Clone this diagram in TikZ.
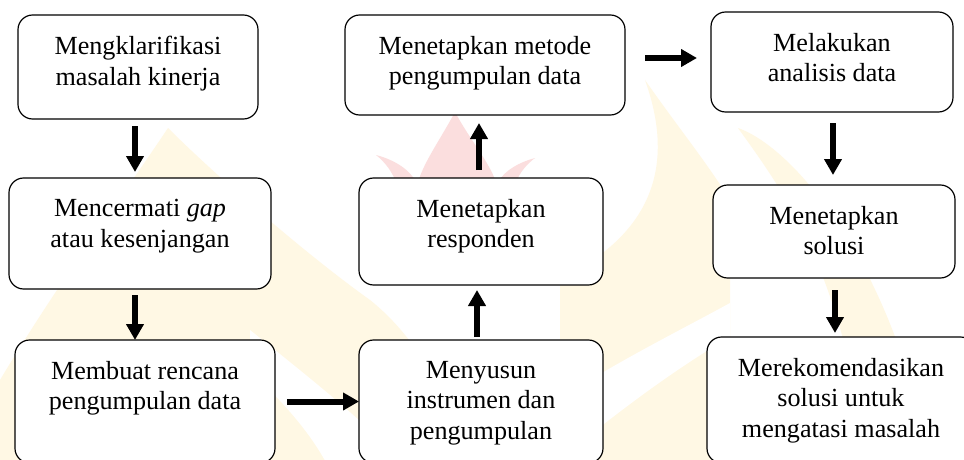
\documentclass[tikz,border=0pt]{standalone}
\usepackage{fontspec}
\setmainfont{Liberation Serif}
\usetikzlibrary{arrows.meta}
\definecolor{wmyellow}{RGB}{255,248,228}
\definecolor{wmpink}{RGB}{251,222,222}
\tikzset{
  box/.style 2 args={draw=black, line width=0.9pt, rounded corners=11pt, fill=white,
    minimum width=#1*0.75pt, minimum height=#2*0.75pt, inner sep=0pt, outer sep=0pt},
  txt/.style={align=center, inner sep=0pt, anchor=north, yshift=-15.75pt,
    font=\fontsize{19.6pt}{22.9pt}\selectfont},
  arr/.style={line width=4.5pt, -{Triangle[length=12pt,width=12.75pt]}},
}
\begin{document}
\begin{tikzpicture}[x=0.75pt,y=-0.75pt]
\useasboundingbox (0,0) rectangle (964,460);
\fill[white] (0,0) rectangle (964,460);
% watermark
\fill[wmyellow] (168,128) .. controls (120,200) and (60,280) .. (0,380) -- (-5,470) -- (470,470)
  .. controls (450,400) and (420,340) .. (370,300) .. controls (300,250) and (210,170) .. (168,128) -- cycle;
\fill[white] (250,330) .. controls (300,370) and (350,410) .. (380,440) -- (380,470) -- (330,470)
  .. controls (310,430) and (280,400) .. (250,370) -- cycle;
\fill[wmyellow] (645,80) .. controls (670,150) and (660,210) .. (600,255) -- (560,262) -- (560,470) -- (730,470)
  -- (730,200) .. controls (705,160) and (680,130) .. (645,80) -- cycle;
\fill[white] (590,380) .. controls (640,350) and (690,325) .. (730,303) -- (730,337)
  .. controls (690,360) and (640,395) .. (590,435) -- cycle;
\fill[wmyellow] (738,128) .. controls (790,200) and (840,270) .. (870,470) -- (930,470)
  .. controls (900,280) and (800,150) .. (738,128) -- cycle;
\fill[wmpink] (455,112) .. controls (440,140) and (425,160) .. (418,182) -- (496,182)
  .. controls (488,160) and (470,140) .. (455,112) -- cycle;
\fill[wmpink] (376,155) .. controls (395,160) and (410,170) .. (416,182) -- (396,182)
  .. controls (392,172) and (386,163) .. (376,155) -- cycle;
\fill[wmpink] (535,158) .. controls (520,162) and (505,170) .. (498,182) -- (516,182)
  .. controls (520,172) and (527,164) .. (535,158) -- cycle;
% boxes
\node[box={240}{104}] (b1) at (138,67) {};
\node[box={262}{111}] (b2) at (140,233.5) {};
\node[box={260}{123}] (b3) at (145,401.5) {};
\node[box={280}{100}] (b4) at (485,65) {};
\node[box={244}{107}] (b5) at (481,231.5) {};
\node[box={244}{123}] (b6) at (481,401.5) {};
\node[box={242}{100}] (b7) at (832,62) {};
\node[box={242}{93}] (b8) at (834,231.5) {};
\node[box={268}{126}] (b9) at (841,400) {};
% texts
\node[txt] (t1) at (b1.north) {Mengklarifikasi\\masalah kinerja};
\node[txt] (t2) at (b2.north) {Mencermati \textit{gap}\\atau kesenjangan};
\node[txt] (t3) at (b3.north) {Membuat rencana\\pengumpulan data};
\node[txt] (t4) at (b4.north) {Menetapkan metode\\pengumpulan data};
\node[txt] (t5) at (b5.north) {Menetapkan\\responden};
\node[txt] (t6) at (b6.north) {Menyusun\\instrumen dan\\pengumpulan};
\node[txt] (t7) at (b7.north) {Melakukan\\analisis data};
\node[txt] (t8) at (b8.north) {Menetapkan\\solusi};
\node[txt] (t9) at (b9.north) {Merekomendasikan\\solusi untuk\\mengatasi masalah};
% arrows
\draw[arr, shorten <=5.25pt, shorten >=4.5pt] ([xshift=-2.25pt]b1.south) -- ([xshift=-2.25pt]b1.south |- b2.north);
\draw[arr, shorten <=4.5pt] ([xshift=-3.75pt]b2.south) -- ([xshift=-3.75pt]b2.south |- b3.north);
\draw[arr, shorten <=9pt] (b3.east) -- (b6.west);
\draw[arr, shorten <=2.25pt, shorten >=3.75pt] ([xshift=-3pt]b6.north) -- ([xshift=-3pt]b6.north |- b5.south);
\draw[arr, shorten <=6pt, shorten >=6pt] ([xshift=-1.5pt]b5.north) -- ([xshift=-1.5pt]b5.north |- b4.south);
\draw[arr, shorten <=15pt, shorten >=10.5pt] ([yshift=5.25pt]b4.east) -- ([yshift=5.25pt]b4.east -| b7.west);
\draw[arr, shorten <=8.25pt, shorten >=7.5pt] ([xshift=0.75pt]b7.south) -- ([xshift=0.75pt]b7.south |- b8.north);
\draw[arr, shorten <=9pt, shorten >=3pt] ([xshift=0.75pt]b8.south) -- ([xshift=0.75pt]b8.south |- b9.north);
\end{tikzpicture}
\end{document}
